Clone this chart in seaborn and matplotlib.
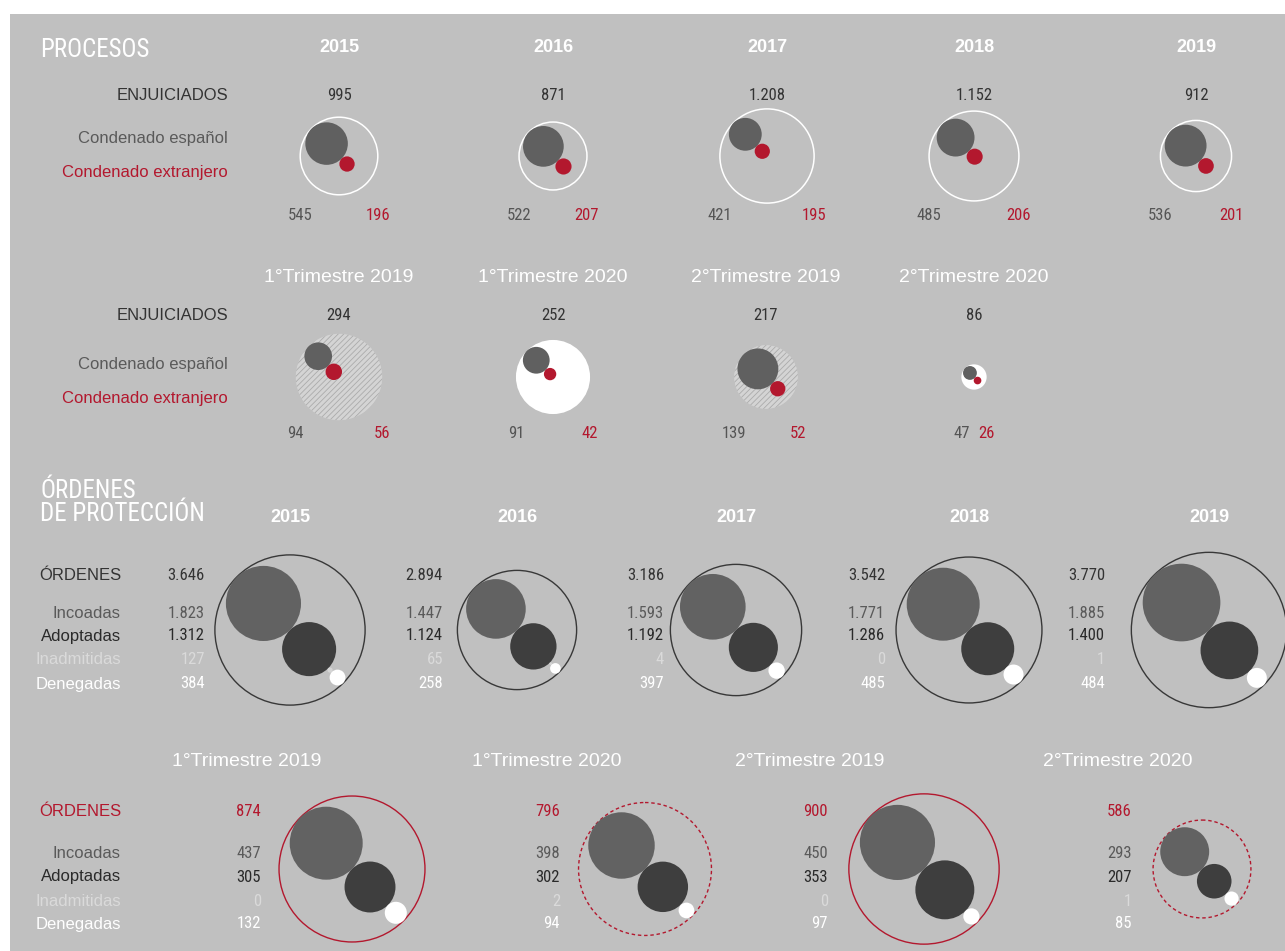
import logging
import numpy as np
import matplotlib
matplotlib.use('Agg')
import matplotlib.pyplot as plt
from matplotlib.patches import Circle, Rectangle
import seaborn as sns

logging.getLogger('matplotlib.font_manager').setLevel(logging.ERROR)

# ---- data ----
proc_years = ['2015', '2016', '2017', '2018', '2019']
proc_total = [995, 871, 1208, 1152, 912]
proc_esp = [545, 522, 421, 485, 536]
proc_ext = [196, 207, 195, 206, 201]

proc_q_labels = ['1°Trimestre 2019', '1°Trimestre 2020', '2°Trimestre 2019', '2°Trimestre 2020']
proc_q_total = [294, 252, 217, 86]
proc_q_esp = [94, 91, 139, 47]
proc_q_ext = [56, 42, 52, 26]

ord_years = ['2015', '2016', '2017', '2018', '2019']
ord_total = [3646, 2894, 3186, 3542, 3770]
ord_incoadas = [1823, 1447, 1593, 1771, 1885]
ord_adoptadas = [1312, 1124, 1192, 1286, 1400]
ord_inadmitidas = [127, 65, 4, 0, 1]
ord_denegadas = [384, 258, 397, 485, 484]

ord_q_labels = ['1°Trimestre 2019', '1°Trimestre 2020', '2°Trimestre 2019', '2°Trimestre 2020']
ord_q_total = [874, 796, 900, 586]
ord_q_incoadas = [437, 398, 450, 293]
ord_q_adoptadas = [305, 302, 353, 207]
ord_q_inadmitidas = [0, 2, 0, 1]
ord_q_denegadas = [132, 94, 97, 85]

ord_row_labels = ['Incoadas', 'Adoptadas', 'Inadmitidas', 'Denegadas']

# ---- style ----
sns.set_theme(style='white')
plt.rcParams['font.family'] = ['Liberation Sans', 'DejaVu Sans']
plt.rcParams['hatch.linewidth'] = 0.6

NARROW = ['Roboto Condensed', 'Archivo Narrow', 'PT Sans Narrow',
          'Liberation Sans Narrow', 'DejaVu Sans']
SANS = ['Liberation Sans', 'DejaVu Sans']

BG = '#c0c0c0'
RED = '#b3182e'
DARK = '#333333'
GRAY_ESP = '#606060'
C_INC = '#626262'
C_ADO = '#3e3e3e'
C_INA = '#d6d6d6'
C_DEN = '#ffffff'
row_text = ['#5a5a5a', '#2a2a2a', '#dadada', '#ffffff']
row_fill = [C_INC, C_ADO, C_INA, C_DEN]


def fmt(v):
    return f'{v:,}'.replace(',', '.')


def txt(ax, x, y, s, color, size, family=SANS, ha='center', weight='normal'):
    ax.text(x, y, s, color=color, fontsize=size, family=family, ha=ha,
            va='center', fontweight=weight, zorder=5)


def chain(ax, cx, cy, R, values, colors, scale):
    """Circles along the diagonal, first one touching the outer circle."""
    u = np.array([1.0, 1.0]) / np.sqrt(2)
    radii = [v * scale for v in values]
    p = np.array([cx, cy]) - (R - radii[0]) * u
    for i, (r, c) in enumerate(zip(radii, colors)):
        if i > 0:
            p = p + (radii[i - 1] + r) * u
        if r > 0:
            ax.add_patch(Circle(p, r, facecolor=c, edgecolor='none', zorder=3))


fig = plt.figure(figsize=(12.85, 9.51), dpi=100, facecolor='white')
ax = fig.add_axes([0, 0, 1, 1])
ax.set_xlim(0, 1285)
ax.set_ylim(951, 0)
ax.axis('off')
ax.add_patch(Rectangle((10, 14), 1275, 937, facecolor=BG, edgecolor='none', zorder=0))

# ================= PROCESOS =================
txt(ax, 40, 50, 'PROCESOS', 'white', 18, NARROW, ha='left')

px = [339, 553, 767, 974, 1196]
s1 = 0.039
txt(ax, 228, 96, 'ENJUICIADOS', DARK, 12, ha='right')
txt(ax, 228, 139, 'Condenado español', '#5a5a5a', 12, ha='right')
txt(ax, 228, 172, 'Condenado extranjero', RED, 12, ha='right')
for i, yr in enumerate(proc_years):
    cx, cy = px[i], 156
    R = proc_total[i] * s1
    txt(ax, cx, 48, yr, 'white', 13, weight='bold')
    txt(ax, cx, 96, fmt(proc_total[i]), DARK, 12, NARROW)
    ax.add_patch(Circle((cx, cy), R, fill=False, edgecolor='white', lw=1.1, zorder=2))
    chain(ax, cx, cy, R, [proc_esp[i], proc_ext[i]], [GRAY_ESP, RED], s1)
    txt(ax, cx - R, 215, fmt(proc_esp[i]), '#555555', 12, NARROW)
    txt(ax, cx + R, 215, fmt(proc_ext[i]), RED, 12, NARROW)

pqx = [339, 553, 766, 974]
s2 = 0.147
txt(ax, 228, 315, 'ENJUICIADOS', DARK, 12, ha='right')
txt(ax, 228, 365, 'Condenado español', '#5a5a5a', 12, ha='right')
txt(ax, 228, 398, 'Condenado extranjero', RED, 12, ha='right')
for i, lab in enumerate(proc_q_labels):
    cx, cy = pqx[i], 377
    R = proc_q_total[i] * s2
    txt(ax, cx, 277, lab, 'white', 14)
    txt(ax, cx, 315, fmt(proc_q_total[i]), DARK, 12, NARROW)
    if lab.endswith('2019'):
        ax.add_patch(Circle((cx, cy), R, facecolor='#d4d4d4', edgecolor='#ababab',
                            lw=0, hatch='//////', zorder=2))
    else:
        ax.add_patch(Circle((cx, cy), R, facecolor='white', edgecolor='none', zorder=2))
    chain(ax, cx, cy, R, [proc_q_esp[i], proc_q_ext[i]], [GRAY_ESP, RED], s2)
    txt(ax, cx - R, 434, fmt(proc_q_esp[i]), '#555555', 12, NARROW)
    txt(ax, cx + R, 434, fmt(proc_q_ext[i]), RED, 12, NARROW)

# ================= ÓRDENES DE PROTECCIÓN =================
txt(ax, 40, 491, 'ÓRDENES', 'white', 18, NARROW, ha='left')
txt(ax, 40, 514, 'DE PROTECCIÓN', 'white', 18, NARROW, ha='left')

ox = [290, 517, 736, 969, 1209]
onx = [205, 443, 664, 885, 1105]
s3 = 0.0206
rows_y = [613, 636, 660, 684]
txt(ax, 121, 576, 'ÓRDENES', DARK, 12, ha='right')
for lab, col, y in zip(ord_row_labels, row_text, rows_y):
    txt(ax, 121, y, lab, col, 12, ha='right')
for i, yr in enumerate(ord_years):
    cx, cy = ox[i], 630
    R = ord_total[i] * s3
    parts = [ord_incoadas[i], ord_adoptadas[i], ord_inadmitidas[i], ord_denegadas[i]]
    txt(ax, cx, 517, yr, 'white', 13, weight='bold')
    txt(ax, onx[i], 576, fmt(ord_total[i]), DARK, 12, NARROW, ha='right')
    for v, col, y in zip(parts, row_text, rows_y):
        txt(ax, onx[i], y, fmt(v), col, 12, NARROW, ha='right')
    ax.add_patch(Circle((cx, cy), R, fill=False, edgecolor='#383838', lw=1.0, zorder=2))
    chain(ax, cx, cy, R, parts, row_fill, s3)

oqx = [352, 645, 924, 1202]
oqhx = [247, 547, 810, 1118]
oqnx = [261, 560, 828, 1132]
s4 = 0.0835
qrows_y = [853, 877, 901, 924]
txt(ax, 121, 812, 'ÓRDENES', RED, 12, ha='right')
for lab, col, y in zip(ord_row_labels, row_text, qrows_y):
    txt(ax, 121, y, lab, col, 12, ha='right')
for i, lab in enumerate(ord_q_labels):
    cx, cy = oqx[i], 869
    R = ord_q_total[i] * s4
    parts = [ord_q_incoadas[i], ord_q_adoptadas[i], ord_q_inadmitidas[i], ord_q_denegadas[i]]
    txt(ax, oqhx[i], 761, lab, 'white', 14)
    txt(ax, oqnx[i], 812, fmt(ord_q_total[i]), RED, 12, NARROW, ha='right')
    for v, col, y in zip(parts, row_text, qrows_y):
        txt(ax, oqnx[i], y, fmt(v), col, 12, NARROW, ha='right')
    ls = '-' if lab.endswith('2019') else (0, (2.5, 2))
    ax.add_patch(Circle((cx, cy), R, fill=False, edgecolor=RED, lw=1.0,
                        linestyle=ls, zorder=2))
    chain(ax, cx, cy, R, parts, row_fill, s4)

fig.savefig('out.png', dpi=100, facecolor='white')
